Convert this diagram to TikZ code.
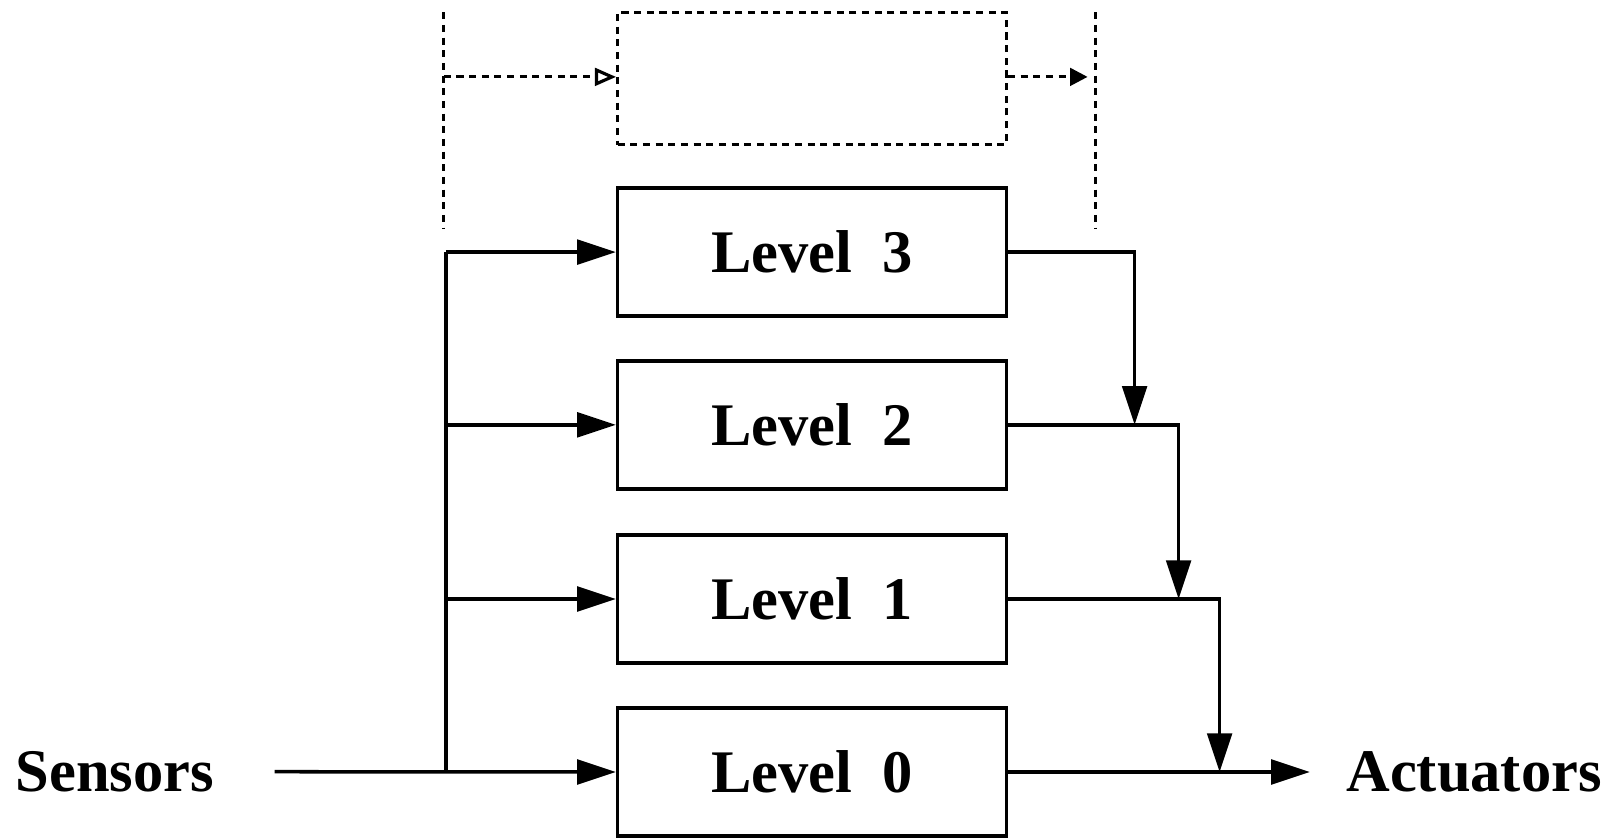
\documentclass[tikz,border=0pt]{standalone}
\usepackage{fontspec}
\setmainfont{Liberation Serif}
\usetikzlibrary{arrows.meta}
\begin{document}
\begin{tikzpicture}[x=0.01cm,y=-0.01cm,
  lvl/.style={draw, line width=1pt, minimum width=3.885cm, minimum height=1.28cm, inner sep=0pt,
    font=\fontsize{17.2}{20}\selectfont\bfseries},
  lab/.style={font=\fontsize{17.2}{20}\selectfont\bfseries, inner sep=0pt},
  wire/.style={line width=1pt},
  arr/.style={wire, -{Triangle[length=11pt,width=7pt]}},
  dot/.style={line width=0.9pt, dash pattern=on 2pt off 1.6pt},
  darr/.style={dot, -{Triangle[open,length=6pt,width=5pt]}},
  darrf/.style={dot, -{Triangle[length=5pt,width=5pt]}}]
\useasboundingbox (0,0) rectangle (1607,839);
% dotted top part
\node[draw, dot, minimum width=3.885cm, minimum height=1.322cm, inner sep=0pt] (top) at (812,78.4) {};
\coordinate (tl1) at (443.8,12.3);
\coordinate (tl2) at (443.8,229);
\coordinate (tr1) at (1095.6,12.3);
\coordinate (tr2) at (1095.6,229);
\coordinate (tlm) at (443.8,76.9);
\coordinate (trm) at (1095.6,76.9);
\draw[dot] (tl1) -- (tl2);
\draw[dot] (tr1) -- (tr2);
\draw[darr] (tlm) -- (top.west |- tlm);
\draw[darrf] (top.east |- trm) -- ([xshift=-0.08cm]trm);
% levels
\node[lvl] (L3) at (812,252.1) {Level\ \ 3};
\node[lvl] (L2) at (812,424.8) {Level\ \ 2};
\node[lvl] (L1) at (812,599) {Level\ \ 1};
\node[lvl] (L0) at (812,772) {Level\ \ 0};
% labels
\node[lab] (sens) at (114.8,771.7) {Sensors};
\node[lab] (act) at (1474,771.7) {Actuators};
% left bus
\coordinate (s) at (274.7,771.7);
\coordinate (b0) at (445.8,771.7);
\coordinate (b1) at (445.8,599);
\coordinate (b2) at (445.8,424.8);
\coordinate (b3) at (445.8,252.1);
\draw[arr] (s) -- (L0.west);
\draw[wire] (b0) -- (b3);
\draw[arr] (b3) -- (L3.west);
\draw[arr] (b2) -- (L2.west);
\draw[arr] (b1) -- (L1.west);
% right side
\coordinate (j2) at (1134.6,424.8);
\coordinate (j1) at (1178.6,599);
\coordinate (j0) at (1219.6,772);
\coordinate (a) at (1309.8,772);
\draw[arr] (L3.east) -| (j2);
\draw[arr] (L2.east) -| (j1);
\draw[arr] (L1.east) -| (j0);
\draw[arr] (L0.east) -- (a);
\end{tikzpicture}
\end{document}
